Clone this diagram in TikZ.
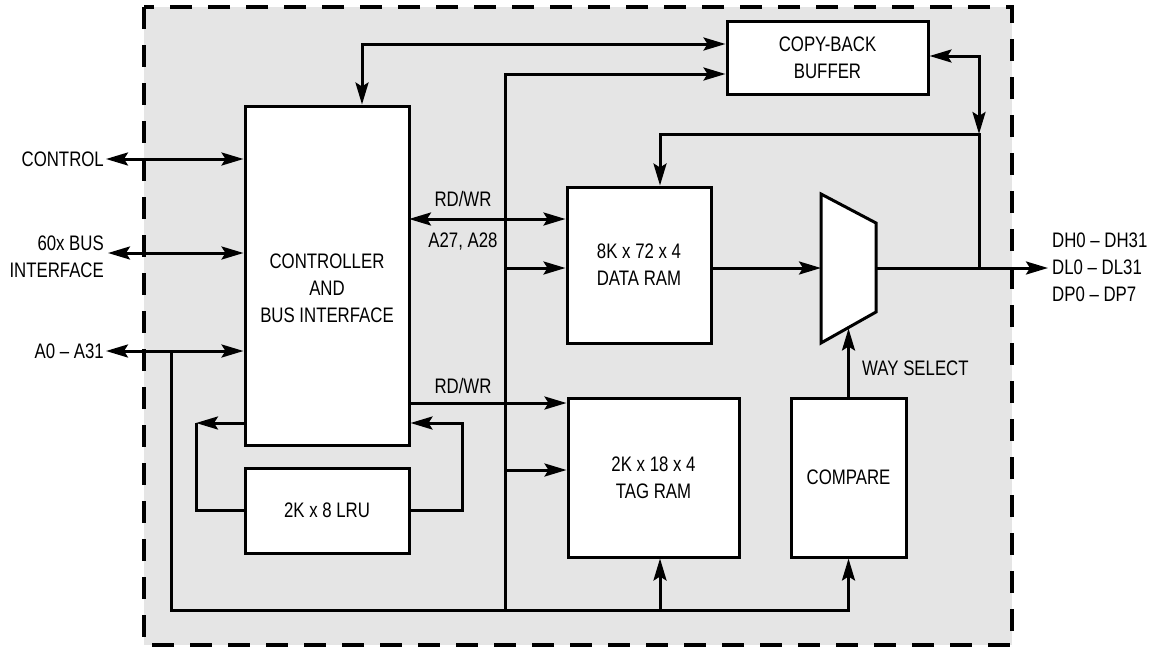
\documentclass[tikz,border=0pt]{standalone}
\usepackage{fontspec}
\setmainfont{Liberation Sans}[FakeStretch=0.8]
\usetikzlibrary{arrows.meta}
\begin{document}
\begin{tikzpicture}[x=1pt,y=-1pt,
  font=\fontsize{21}{27}\selectfont,
  blk/.style={draw,fill=white,line width=3pt,inner sep=0pt,align=center},
  lbl/.style={inner sep=2pt,align=center},
  wire/.style={line width=3pt},
  arr/.style={wire,-{Stealth[length=22pt,width=13pt,inset=4pt]}},
  arrb/.style={wire,{Stealth[length=22pt,width=13pt,inset=4pt]}-{Stealth[length=22pt,width=13pt,inset=4pt]}}]
\useasboundingbox (0,0) rectangle (1158,648);
% frame
\fill[black!10] (144,7) rectangle (1012,645);
\draw[line width=3.5pt,dash pattern=on 22pt off 16pt] (144,7) rectangle (1012,645);
% blocks
\node[blk,minimum width=164pt,minimum height=339pt] (ctrl) at (327,275.5) {};
\node[lbl] (ctrltxt) at (327,288) {CONTROLLER\\AND\\BUS INTERFACE};
\node[blk,minimum width=201pt,minimum height=73pt] (cbb) at (827.5,57.5) {COPY-BACK\\BUFFER};
\node[blk,minimum width=144pt,minimum height=156pt] (dram) at (639,265) {8K x 72 x 4\\DATA RAM};
\node[blk,minimum width=171pt,minimum height=159pt] (tram) at (653.5,477.5) {2K x 18 x 4\\TAG RAM};
\node[blk,minimum width=115pt,minimum height=159pt] (cmp) at (848.5,477.5) {COMPARE};
\node[blk,minimum width=164pt,minimum height=85pt] (lru) at (327,510.5) {2K x 8 LRU};
% mux
\coordinate (m1) at (821,194);
\coordinate (m2) at (876,223);
\coordinate (m3) at (876,312);
\coordinate (m4) at (821,343);
\draw[line width=3pt,fill=white,line join=miter] (m1) -- (m2) -- (m3) -- (m4) -- cycle;
\coordinate (mi) at (821,268);
\coordinate (mo) at (876,268);
\coordinate (ms) at (847,328.5);
% left labels
\node[lbl,anchor=east] (lctl) at (106,159) {CONTROL};
\node[lbl,anchor=east,align=right] (lbus) at (106,257) {60x BUS\\INTERFACE};
\node[lbl,anchor=east] (la) at (106,351) {A0 -- A31};
\coordinate (bl) at (108,253);
\draw[arrb] (lctl.east) -- (lctl.east -| ctrl.west);
\draw[arrb] (bl) -- (bl -| ctrl.west);
\draw[arrb] (la.east) -- (la.east -| ctrl.west);
% address bus
\coordinate (aj) at (171,351);
\coordinate (bb) at (171,610);
\coordinate (tj) at (660,610);
\coordinate (vb) at (505,610);
\coordinate (vt) at (505,74);
\coordinate (vd) at (505,268);
\coordinate (vtr) at (505,470);
\draw[arr] (aj) -- (bb) -| (cmp.south);
\draw[arr] (tj) -- (tj |- tram.south);
\draw[arr] (vb) -- (vt) -- (vt -| cbb.west);
\draw[arr] (vd) -- (vd -| dram.west);
\draw[arr] (vtr) -- (vtr -| tram.west);
% top line
\coordinate (tl) at (362,44);
\draw[arrb] (tl -| cbb.west) -- (tl) -- (tl |- ctrl.north);
% RD/WR
\coordinate (r1) at (409,219);
\coordinate (r2) at (409,403);
\draw[arrb] (r1) -- (r1 -| dram.west);
\draw[arr] (r2) -- (r2 -| tram.west);
\node[lbl] (rw1) at (463,199) {RD/WR};
\node[lbl] (a27) at (463,242) {A27, A28};
\node[lbl] (rw2) at (463,386) {RD/WR};
% LRU loops
\coordinate (ll) at (196,423);
\coordinate (lr) at (462,423);
\draw[arr] (ll -| ctrl.west) -- (ll);
\draw[wire] (ll) |- (lru.west);
\draw[arr] (lru.east) -| (lr) -- (lr -| ctrl.east);
% data path
\draw[arr] (mi -| dram.east) -- (mi);
\coordinate (dout) at (1048,268);
\draw[arr] (mo) -- (dout);
\node[lbl,anchor=west,align=left] (dlab) at (1050,267) {DH0 -- DH31\\DL0 -- DL31\\DP0 -- DP7};
% feedback
\coordinate (fj) at (979,268);
\coordinate (fc) at (979,134);
\coordinate (fd) at (660,134);
\coordinate (fb) at (979,56);
\draw[arr] (fj) -- (fc) -- (fd) -- (fd |- dram.north);
\draw[arrb] (fb -| cbb.east) -- (fb) -- (fc);
% way select
\draw[arr] (cmp.north) -- (cmp.north |- ms);
\node[lbl,anchor=west] (ws) at (860,368) {WAY SELECT};
\end{tikzpicture}
\end{document}
